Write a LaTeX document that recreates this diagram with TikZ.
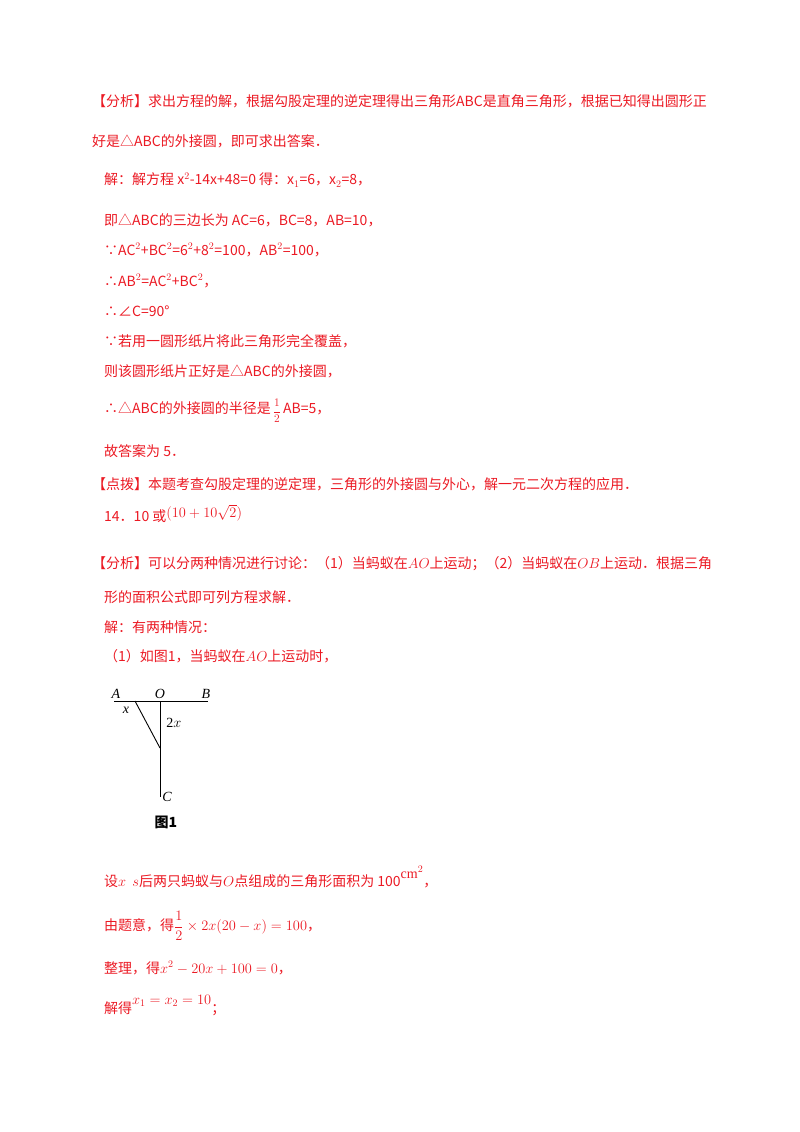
\documentclass[tikz,border=0pt]{standalone}
\usepackage{amsmath}
\usepackage{fontspec}
\setmainfont{Liberation Serif}
\newfontfamily\cjk{Noto Sans CJK SC}
\definecolor{rd}{RGB}{235,25,35}
\begin{document}
\begin{tikzpicture}[x=1pt,y=-1pt,
 t/.style={anchor=west,inner sep=0pt,text=rd,font=\cjk\fontsize{14}{14}\selectfont},
 lbl/.style={inner sep=0pt,font=\itshape\fontsize{14}{14}\selectfont}]
\useasboundingbox (0,0) rectangle (800,1132);
\node[t] (l1) at (92,101) {【分析】求出方程的解，根据勾股定理的逆定理得出三角形ABC是直角三角形，根据已知得出圆形正};
\node[t] (l2) at (92,141) {好是△ABC的外接圆，即可求出答案．};
\node[t] (l3) at (104,180) {解：解方程 x$^{2}$-14x+48=0 得：x$_{1}$=6，x$_{2}$=8，};
\node[t] (l4) at (104,220) {即△ABC的三边长为 AC=6，BC=8，AB=10，};
\node[t] (l5) at (104,250) {∵AC$^{2}$+BC$^{2}$=6$^{2}$+8$^{2}$=100，AB$^{2}$=100，};
\node[t] (l6) at (104,281) {∴AB$^{2}$=AC$^{2}$+BC$^{2}$，};
\node[t] (l7) at (104,311) {∴∠C=90°};
\node[t] (l8) at (104,341) {∵若用一圆形纸片将此三角形完全覆盖，};
\node[t] (l9) at (104,371) {则该圆形纸片正好是△ABC的外接圆，};
\node[t] (l10) at (104,411) {∴△ABC的外接圆的半径是\,\raisebox{-1pt}{\scalebox{0.8}{$\dfrac{1}{2}$}}\,AB=5，};
\node[t] (l11) at (104,451) {故答案为 5．};
\node[t] (l12) at (92,484) {【点拨】本题考查勾股定理的逆定理，三角形的外接圆与外心，解一元二次方程的应用．};
\node[t] (l13) at (104,514) {14．10 或\raisebox{4pt}{$(10+10\sqrt{2})$}};
\node[t] (l14) at (92,564) {【分析】可以分两种情况进行讨论：（1）当蚂蚁在$AO$上运动；（2）当蚂蚁在$OB$上运动．根据三角};
\node[t] (l15) at (104,597) {形的面积公式即可列方程求解．};
\node[t] (l16) at (104,627) {解：有两种情况：};
\node[t] (l17) at (104,656) {（1）如图1，当蚂蚁在$AO$上运动时，};
% figure
\coordinate (A) at (114,701);
\coordinate (B) at (208,701);
\coordinate (O) at (160,701);
\coordinate (P) at (135,701);
\coordinate (M) at (160,748);
\coordinate (C) at (160,797);
\draw[line width=0.9pt] (A) -- (B);
\draw[line width=0.9pt] (O) -- (C);
\draw[line width=0.9pt] (P) -- (M);
\node[lbl] (nA) at (116,694) {A};
\node[lbl] (nO) at (160,694) {O};
\node[lbl] (nB) at (206,694) {B};
\node[lbl] (nx) at (126,710) {x};
\node[lbl,font=\fontsize{14}{14}\selectfont] (n2x) at (174,723) {2$x$};
\node[lbl] (nC) at (167,797) {C};
\node[inner sep=0pt,font=\cjk\bfseries\fontsize{14}{14}\selectfont] (fig) at (166,822) {图1};
\node[t] (l18) at (104,877) {设$x$\ \ $s$后两只蚂蚁与$O$点组成的三角形面积为 100\raisebox{8pt}{\textcolor{rd}{\rmfamily cm$^{2}$}}，};
\node[t] (l19) at (104,926) {由题意，得$\dfrac{1}{2}\times 2x(20-x)=100$，};
\node[t] (l20) at (104,968) {整理，得$x^{2}-20x+100=0$，};
\node[t] (l21) at (104,1005) {解得\raisebox{9pt}{$x_{1}=x_{2}=10$}；};
\end{tikzpicture}
\end{document}
